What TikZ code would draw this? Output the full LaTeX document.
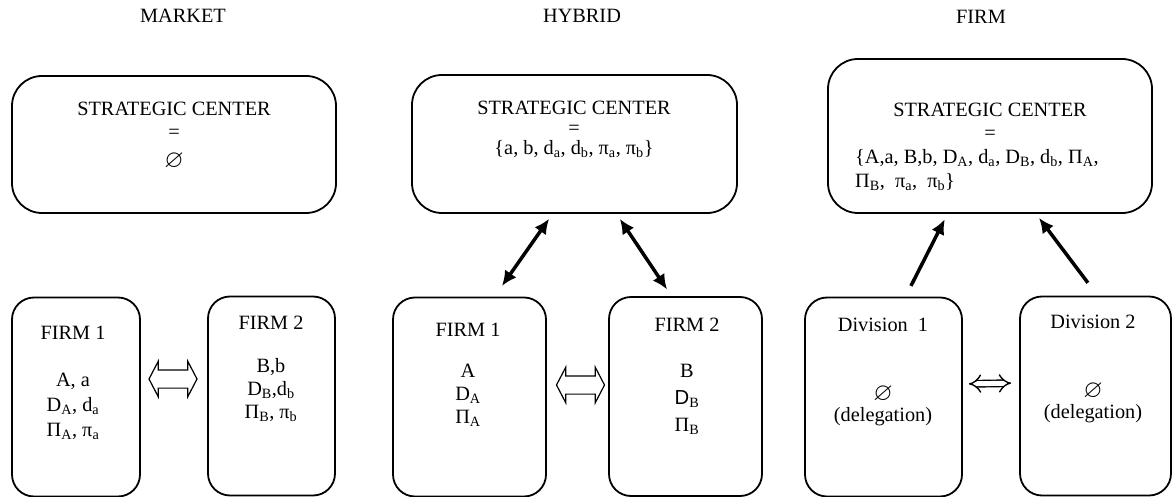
\documentclass[tikz,border=0pt]{standalone}
\usepackage{amssymb}
\usepackage{fontspec}
\setmainfont{Liberation Serif}
\newfontfamily\arialfont{Liberation Sans}
\usetikzlibrary{arrows.meta,shapes.arrows}
\newcommand{\nullset}{{\fontsize{25}{20}\selectfont$\varnothing$}}

\begin{document}
\begin{tikzpicture}[x=1pt,y=-1pt,
        font=\fontsize{20.3}{23}\selectfont,
        centerbox/.style={draw,line width=1.8pt,rounded corners=30pt,inner sep=0pt},
        unitbox/.style={draw,line width=1.8pt,rounded corners=22pt,inner sep=0pt,minimum height=199pt},
        boxtext/.style={align=center,inner sep=0pt},
        oneway/.style={line width=3.5pt,-{Latex[length=15pt,width=14pt]}},
        twoway/.style={line width=3.5pt,{Latex[length=15pt,width=14pt]}-{Latex[length=15pt,width=14pt]}},
        tradearrow/.style={draw,double arrow,line width=1.2pt,inner xsep=0pt,inner ysep=8.5pt,minimum height=48pt,
            minimum width=0pt,double arrow head extend=8.5pt,double arrow tip angle=125}]
        \useasboundingbox (0,0) rectangle (1172,497);
        % columns
        \coordinate (mk) at (174,144.5);
        \coordinate (hy) at (574.5,144);
        \coordinate (fm) at (990,136);
        \node[boxtext] (mkTitle) at (183,16) {MARKET};
        \node[boxtext] (hyTitle) at (582,16) {HYBRID};
        \node[boxtext] (fmTitle) at (981,17) {FIRM};
        % strategic centers
        \node[centerbox,minimum width=324pt,minimum height=137pt] (mkSC) at (mk) {};
        \node[centerbox,minimum width=325pt,minimum height=138pt] (hySC) at (hy) {};
        \node[centerbox,minimum width=324pt,minimum height=154pt] (fmSC) at (fm) {};
        \node[boxtext] (mkSCtext) at (174,120) {STRATEGIC CENTER\\=};
        \node[boxtext] (mkSCset) at (174,161) {\nullset};
        \node[boxtext,font=\fontsize{20.3}{20}\selectfont] (hySCtext) at (574,129)
            {STRATEGIC CENTER\\=\\\{a, b, d\textsubscript{a}, d\textsubscript{b}, π\textsubscript{a}, π\textsubscript{b}\}};
        \node[boxtext] (fmSCtext) at (990,121) {STRATEGIC CENTER\\=};
        \node[boxtext,align=left,anchor=west,font=\fontsize{20.3}{24}\selectfont] (fmSCset) at (855,170)
            {\{A,a, B,b, D\textsubscript{A}, d\textsubscript{a}, D\textsubscript{B}, d\textsubscript{b}, Π\textsubscript{A},\\Π\textsubscript{B},\ \ π\textsubscript{a},\ \ π\textsubscript{b}\}};
        % firms and divisions
        \node[unitbox,minimum width=128pt] (mkF1) at (76,397) {};
        \node[unitbox,minimum width=127pt] (mkF2) at (271.5,396) {};
        \node[unitbox,minimum width=153pt] (hyF1) at (469.5,397) {};
        \node[unitbox,minimum width=153pt] (hyF2) at (685.5,396.5) {};
        \node[unitbox,minimum width=157pt] (fmD1) at (883.5,397) {};
        \node[unitbox,minimum width=151pt] (fmD2) at (1095.5,396) {};
        \node[boxtext] (mkF1title) at (73,333) {FIRM 1};
        \node[boxtext,font=\fontsize{20.3}{25}\selectfont] (mkF1text) at (73,406)
            {A, a\\D\textsubscript{A}, d\textsubscript{a}\\Π\textsubscript{A}, π\textsubscript{a}};
        \node[boxtext] (mkF2title) at (271,323) {FIRM 2};
        \node[boxtext] (mkF2text) at (271,390)
            {B,b\\D\textsubscript{B},d\textsubscript{b}\\Π\textsubscript{B}, π\textsubscript{b}};
        \node[boxtext] (hyF1title) at (468,330) {FIRM 1};
        \node[boxtext] (hyF1text) at (468,395) {A\\D\textsubscript{A}\\Π\textsubscript{A}};
        \node[boxtext] (hyF2title) at (687,325) {FIRM 2};
        \node[boxtext,font=\fontsize{20.3}{27}\selectfont] (hyF2text) at (687,399)
            {B\\{\arialfont D}\textsubscript{B}\\Π\textsubscript{B}};
        \node[boxtext] (fmD1title) at (883,325) {Division\ \ 1};
        \node[boxtext,font=\fontsize{20.3}{21}\selectfont] (fmD1text) at (883,406) {\nullset\\(delegation)};
        \node[boxtext] (fmD2title) at (1093,322) {Division 2};
        \node[boxtext,font=\fontsize{20.3}{21}\selectfont] (fmD2text) at (1093,403) {\nullset\\(delegation)};
        % links
        \node[tradearrow] (mkTrade) at (173,379) {};
        \node[tradearrow] (hyTrade) at (580.5,385) {};
        \draw[twoway,shorten <=6pt,shorten >=13pt] ([xshift=-22pt]hySC.south) -- ([xshift=25pt]hyF1.north);
        \draw[twoway,shorten <=6pt,shorten >=8pt] ([xshift=42pt]hySC.south) -- ([xshift=-14pt]hyF2.north);
        \draw[oneway,shorten <=12pt,shorten >=6pt] ([xshift=22pt]fmD1.north) -- ([xshift=-42.5pt]fmSC.south);
        \draw[oneway,shorten <=16pt,shorten >=5pt] ([xshift=2pt]fmD2.north) -- ([xshift=46pt]fmSC.south);
        \draw[line width=1.4pt,double distance=5pt,{Implies}-{Implies},shorten <=6pt,shorten >=8pt]
            ([yshift=13pt]fmD1.east) -- ([yshift=13pt]fmD2.west);
    \end{tikzpicture}
\end{document}
